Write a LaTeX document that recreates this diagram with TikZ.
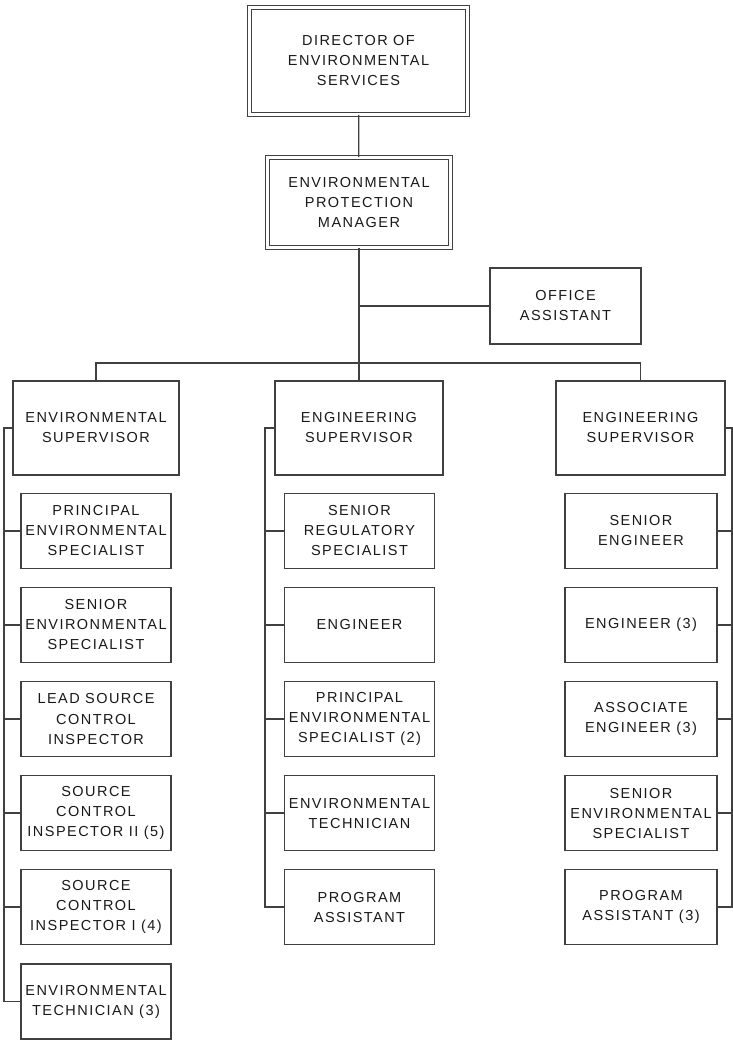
\documentclass[tikz,border=0pt]{standalone}
\usepackage{fontspec}
\newfontfamily\orgfont[LetterSpace=10]{Liberation Sans}
\usepackage{tikz}
\usetikzlibrary{positioning,calc}

\begin{document}
\begin{tikzpicture}[
  x=1pt, y=-1pt,
  font=\orgfont\fontsize{14.5}{20}\selectfont,
  base/.style={draw=black!75, line width=1.2pt, fill=white, align=center, inner sep=0pt, text=black!90},
  head/.style={base, double, double distance=3pt},
  unit/.style={base, minimum width=150pt, minimum height=75pt},
  lead/.style={base, minimum height=94pt},
  ln/.style={draw=black!75, line width=1.2pt}
]
\useasboundingbox (0,0) rectangle (733,1041);
% 상단
\node[head, minimum width=217.6pt, minimum height=106.6pt] (dir) at (358.5,61) {DIRECTOR OF\\ENVIRONMENTAL\\SERVICES};
\node[head, minimum width=182.6pt, minimum height=89.6pt] (mgr) at (359,202.5) {ENVIRONMENTAL\\PROTECTION\\MANAGER};
\node[base, minimum width=151pt, minimum height=76pt] (off) at (565.5,306) {OFFICE\\ASSISTANT};
% 감독
\node[lead, minimum width=166pt] (esup) at (96,428) {ENVIRONMENTAL\\SUPERVISOR};
\node[lead, minimum width=168pt] (msup) at (359,428) {ENGINEERING\\SUPERVISOR};
\node[lead, minimum width=169pt] (rsup) at (640.5,428) {ENGINEERING\\SUPERVISOR};
% 왼쪽 열
\node[unit] (e1) at (96,531) {PRINCIPAL\\ENVIRONMENTAL\\SPECIALIST};
\node[unit] (e2) at (96,625) {SENIOR\\ENVIRONMENTAL\\SPECIALIST};
\node[unit] (e3) at (96,719) {LEAD SOURCE\\CONTROL\\INSPECTOR};
\node[unit] (e4) at (96,813) {SOURCE\\CONTROL\\INSPECTOR II (5)};
\node[unit] (e5) at (96,907) {SOURCE\\CONTROL\\INSPECTOR I (4)};
\node[unit] (e6) at (96,1001.5) {ENVIRONMENTAL\\TECHNICIAN (3)};
% 가운데 열
\node[unit] (m1) at (359.5,531) {SENIOR\\REGULATORY\\SPECIALIST};
\node[unit] (m2) at (359.5,625) {ENGINEER};
\node[unit] (m3) at (359.5,719) {PRINCIPAL\\ENVIRONMENTAL\\SPECIALIST (2)};
\node[unit] (m4) at (359.5,813) {ENVIRONMENTAL\\TECHNICIAN};
\node[unit] (m5) at (359.5,907) {PROGRAM\\ASSISTANT};
% 오른쪽 열
\node[unit, minimum width=152pt] (r1) at (641,531) {SENIOR\\ENGINEER};
\node[unit, minimum width=152pt] (r2) at (641,625) {ENGINEER (3)};
\node[unit, minimum width=152pt] (r3) at (641,719) {ASSOCIATE\\ENGINEER (3)};
\node[unit, minimum width=152pt] (r4) at (641,813) {SENIOR\\ENVIRONMENTAL\\SPECIALIST};
\node[unit, minimum width=152pt] (r5) at (641,907) {PROGRAM\\ASSISTANT (3)};
% 연결점
\coordinate (bus) at (359,363);
\coordinate (spineL) at (4,428);
\coordinate (spineM) at (265,428);
\coordinate (spineR) at (732,428);
% 선
\draw[ln] (dir) -- (mgr);
\draw[ln] (mgr.south) -- (bus);
\draw[ln] (off.west) -- (off.west -| bus);
\draw[ln] (esup.north) |- (bus) -| (rsup.north);
\draw[ln] (bus) -- (msup.north);
\draw[ln] (esup.west) -- (spineL) |- (e6.west);
\draw[ln] (e1.west) -- (e1.west -| spineL);
\draw[ln] (e2.west) -- (e2.west -| spineL);
\draw[ln] (e3.west) -- (e3.west -| spineL);
\draw[ln] (e4.west) -- (e4.west -| spineL);
\draw[ln] (e5.west) -- (e5.west -| spineL);
\draw[ln] (msup.west) -- (spineM) |- (m5.west);
\draw[ln] (m1.west) -- (m1.west -| spineM);
\draw[ln] (m2.west) -- (m2.west -| spineM);
\draw[ln] (m3.west) -- (m3.west -| spineM);
\draw[ln] (m4.west) -- (m4.west -| spineM);
\draw[ln] (rsup.east) -- (spineR) |- (r5.east);
\draw[ln] (r1.east) -- (r1.east -| spineR);
\draw[ln] (r2.east) -- (r2.east -| spineR);
\draw[ln] (r3.east) -- (r3.east -| spineR);
\draw[ln] (r4.east) -- (r4.east -| spineR);
\end{tikzpicture}
\end{document}
